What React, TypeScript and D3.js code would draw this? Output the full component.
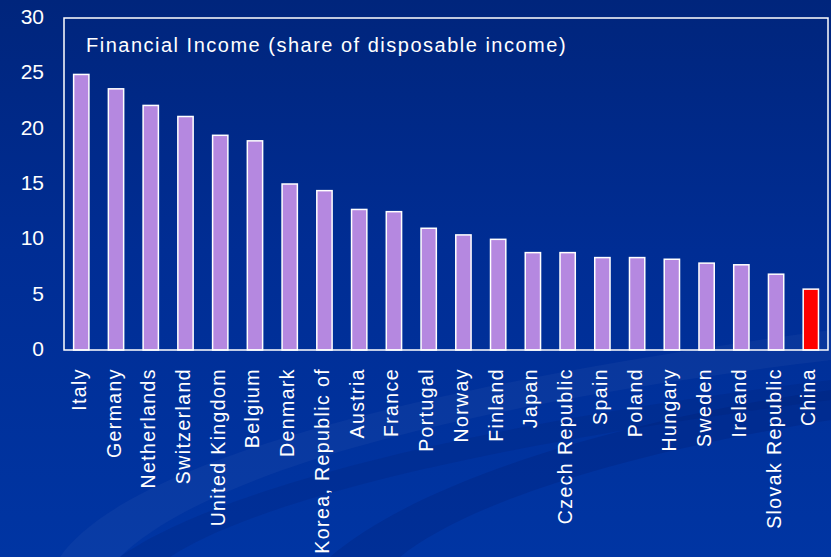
import React from "react";
import * as d3 from "d3";

const countries = [
  "Italy", "Germany", "Netherlands", "Switzerland", "United Kingdom", "Belgium",
  "Denmark", "Korea, Republic of", "Austria", "France", "Portugal", "Norway",
  "Finland", "Japan", "Czech Republic", "Spain", "Poland", "Hungary", "Sweden",
  "Ireland", "Slovak Republic", "China",
];
const financialIncome = [
  24.9, 23.6, 22.1, 21.1, 19.4, 18.9, 15.0, 14.4, 12.7, 12.5, 11.0, 10.4,
  10.0, 8.8, 8.8, 8.35, 8.35, 8.2, 7.85, 7.7, 6.85, 5.5,
];
const yTicks = [0, 5, 10, 15, 20, 25, 30];
const title = "Financial Income (share of disposable income)";

const W = 831;
const H = 557;
const plot = { left: 64, right: 828, top: 18, bottom: 350 };

export default function App() {
  const x = d3
    .scaleBand<string>()
    .domain(countries)
    .range([63.9, 828.2])
    .paddingInner(0.56)
    .paddingOuter(0.28);
  const y = d3.scaleLinear().domain([0, 30]).range([plot.bottom, plot.top]);
  const font = "'Liberation Sans', Arial, sans-serif";

  return (
    <svg
      width={W}
      height={H}
      style={{ position: "absolute", left: 0, top: 0, display: "block" }}
    >
      <defs>
        <linearGradient id="bg" x1="0" y1="0" x2="0" y2="1">
          <stop offset="0" stopColor="#00257c" />
          <stop offset="0.45" stopColor="#002d94" />
          <stop offset="1" stopColor="#0035a3" />
        </linearGradient>
      </defs>
      <rect width={W} height={H} fill="url(#bg)" />
      {/* faint decorative swooshes along the bottom */}
      <path
        d="M 60 557 C 120 470, 380 390, 831 330 L 831 360 C 420 410, 200 480, 120 557 Z"
        fill="#ffffff"
        opacity={0.035}
      />
      <path
        d="M 330 557 C 420 480, 620 420, 831 390 L 831 420 C 640 450, 470 500, 400 557 Z"
        fill="#000a40"
        opacity={0.12}
      />
      <path
        d="M 120 557 C 200 500, 420 430, 831 380 L 831 400 C 440 450, 240 510, 170 557 Z"
        fill="#001a6a"
        opacity={0.18}
      />

      {/* bars */}
      {countries.map((c, i) => (
        <rect
          key={c}
          x={x(c)!}
          y={y(financialIncome[i])}
          width={x.bandwidth()}
          height={y(0) - y(financialIncome[i])}
          fill={c === "China" ? "#ff0000" : "#b588e0"}
          stroke="#ffffff"
          strokeWidth={1.5}
        />
      ))}

      {/* plot frame */}
      <rect
        x={plot.left}
        y={plot.top}
        width={plot.right - plot.left}
        height={plot.bottom - plot.top}
        fill="none"
        stroke="#ffffff"
        strokeWidth={1.5}
      />

      {/* y tick labels */}
      {yTicks.map((t) => (
        <text
          key={t}
          x={44}
          y={y(t)}
          dy="0.28em"
          textAnchor="end"
          fill="#ffffff"
          fontFamily={font}
          fontSize={21}
        >
          {t}
        </text>
      ))}

      {/* category labels */}
      {countries.map((c) => {
        const cx = x(c)! + x.bandwidth() / 2;
        return (
          <text
            key={c}
            transform={`translate(${cx + 4.5},${368}) rotate(-90)`}
            textAnchor="end"
            fill="#ffffff"
            fontFamily={font}
            fontSize={19.5}
            letterSpacing={1.4}
          >
            {c}
          </text>
        );
      })}

      <text
        x={86}
        y={51.7}
        fill="#ffffff"
        fontFamily={font}
        fontSize={20}
        letterSpacing={1.5}
      >
        {title}
      </text>
    </svg>
  );
}
